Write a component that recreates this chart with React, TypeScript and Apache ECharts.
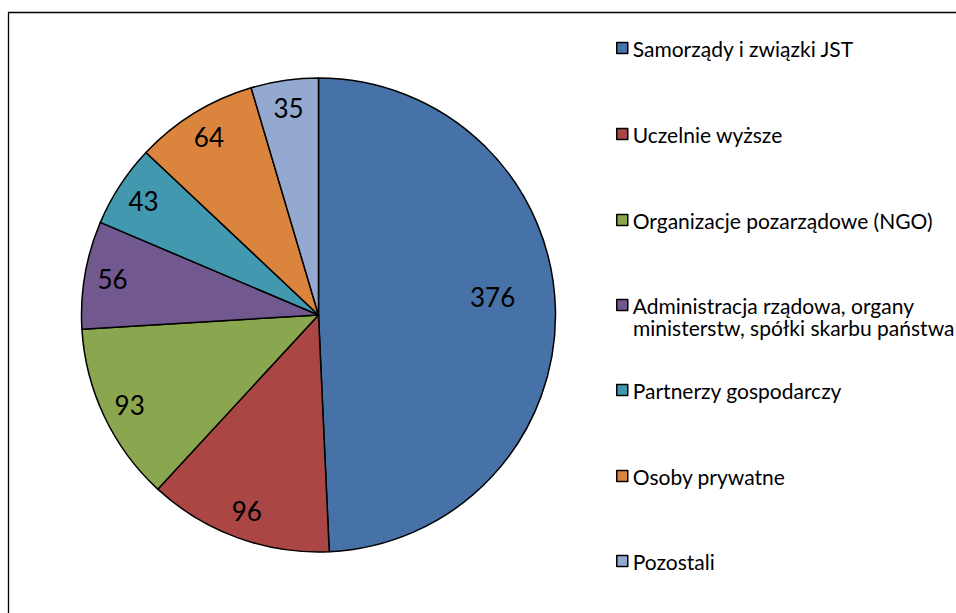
import React, { useEffect, useRef } from 'react';
import * as echarts from 'echarts';

const categories = [
  'Samorządy i związki JST',
  'Uczelnie wyższe',
  'Organizacje pozarządowe (NGO)',
  'Administracja rządowa, organy\nministerstw, spółki skarbu państwa',
  'Partnerzy gospodarczy',
  'Osoby prywatne',
  'Pozostali',
];
const values = [376, 96, 93, 56, 43, 64, 35];
const colors = ['#4672A8', '#AA4644', '#8AA64F', '#71588F', '#4298AF', '#DB843D', '#93A9CF'];

// layout constants
const legendCenters = [48, 134, 220, 305, 390, 476, 561];
const FONT = 'Lato';

export default function App() {
  const ref = useRef<HTMLDivElement>(null);
  useEffect(() => {
    if (!ref.current) return;
    const chart = echarts.init(ref.current, undefined, { renderer: 'svg' });
    const names = categories.map((c) => c.replace('\n', ' '));
    const firstLine = (c: string) => c.split('\n')[0];
    const cx = 318.5;
    const cy = 315;
    const R = 237;

    const realData = values.map((v, i) => ({
      name: names[i],
      value: v,
      itemStyle: { color: colors[i] },
    }));
    const labelStyle = {
      show: true,
      position: 'inside',
      formatter: '{c}',
      fontFamily: FONT,
      fontSize: 26,
      color: '#000',
    };
    const overlay = (r0: number, start: number, showIdx: (i: number) => boolean) => ({
      type: 'pie',
      center: [cx, cy],
      radius: [r0, R],
      startAngle: start,
      clockwise: true,
      silent: true,
      legendHoverLink: false,
      avoidLabelOverlap: false,
      z: 5,
      itemStyle: { color: 'rgba(0,0,0,0)', borderWidth: 0 },
      emphasis: { disabled: true },
      labelLine: { show: false },
      label: labelStyle,
      data: values.map((v, i) => ({
        name: names[i],
        value: v,
        itemStyle: { color: 'rgba(0,0,0,0)', borderWidth: 0 },
        label: { ...labelStyle, show: showIdx(i) },
      })),
    });

    const legends = categories.map((c, i) => ({
      orient: 'vertical',
      left: 616,
      top: legendCenters[i] - 11,
      padding: 0,
      itemWidth: 11,
      itemHeight: 11,
      icon: 'rect',
      selectedMode: false,
      data: [
        {
          name: names[i],
          itemStyle: { color: colors[i], borderColor: '#000', borderWidth: 1.5 },
        },
      ],
      formatter: () => firstLine(c),
      textStyle: { fontFamily: FONT, fontSize: 21, color: '#000', lineHeight: 22 },
    }));

    const extraLines: any[] = [];
    categories.forEach((c, i) => {
      const parts = c.split('\n');
      parts.slice(1).forEach((p, j) => {
        extraLines.push({
          type: 'text',
          left: 633,
          top: legendCenters[i] + 22 * (j + 1) - 11,
          style: { text: p, fontFamily: FONT, fontSize: 21, fill: '#000', lineHeight: 22 },
        });
      });
    });

    chart.setOption({
      animation: false,
      legend: legends,
      graphic: [
        {
          type: 'rect',
          shape: { x: 8.5, y: 12.5, width: 1200, height: 1200 },
          style: { fill: 'none', stroke: '#000', lineWidth: 1.3 },
          z: -1,
        },
        ...extraLines,
      ],
      series: [
        {
          type: 'pie',
          center: [cx, cy],
          radius: [0, R],
          startAngle: 90,
          clockwise: true,
          avoidLabelOverlap: false,
          itemStyle: { borderColor: '#000', borderWidth: 1.5 },
          emphasis: { disabled: true },
          label: { show: false },
          labelLine: { show: false },
          data: realData,
        },
        overlay(175, 90, (i) => i !== 0),
        overlay(107, 94.5, (i) => i === 0),
      ],
    });
    return () => chart.dispose();
  }, []);
  return (
    <div
      ref={ref}
      style={{ position: 'absolute', left: 0, top: 0, width: 956, height: 613 }}
    />
  );
}
